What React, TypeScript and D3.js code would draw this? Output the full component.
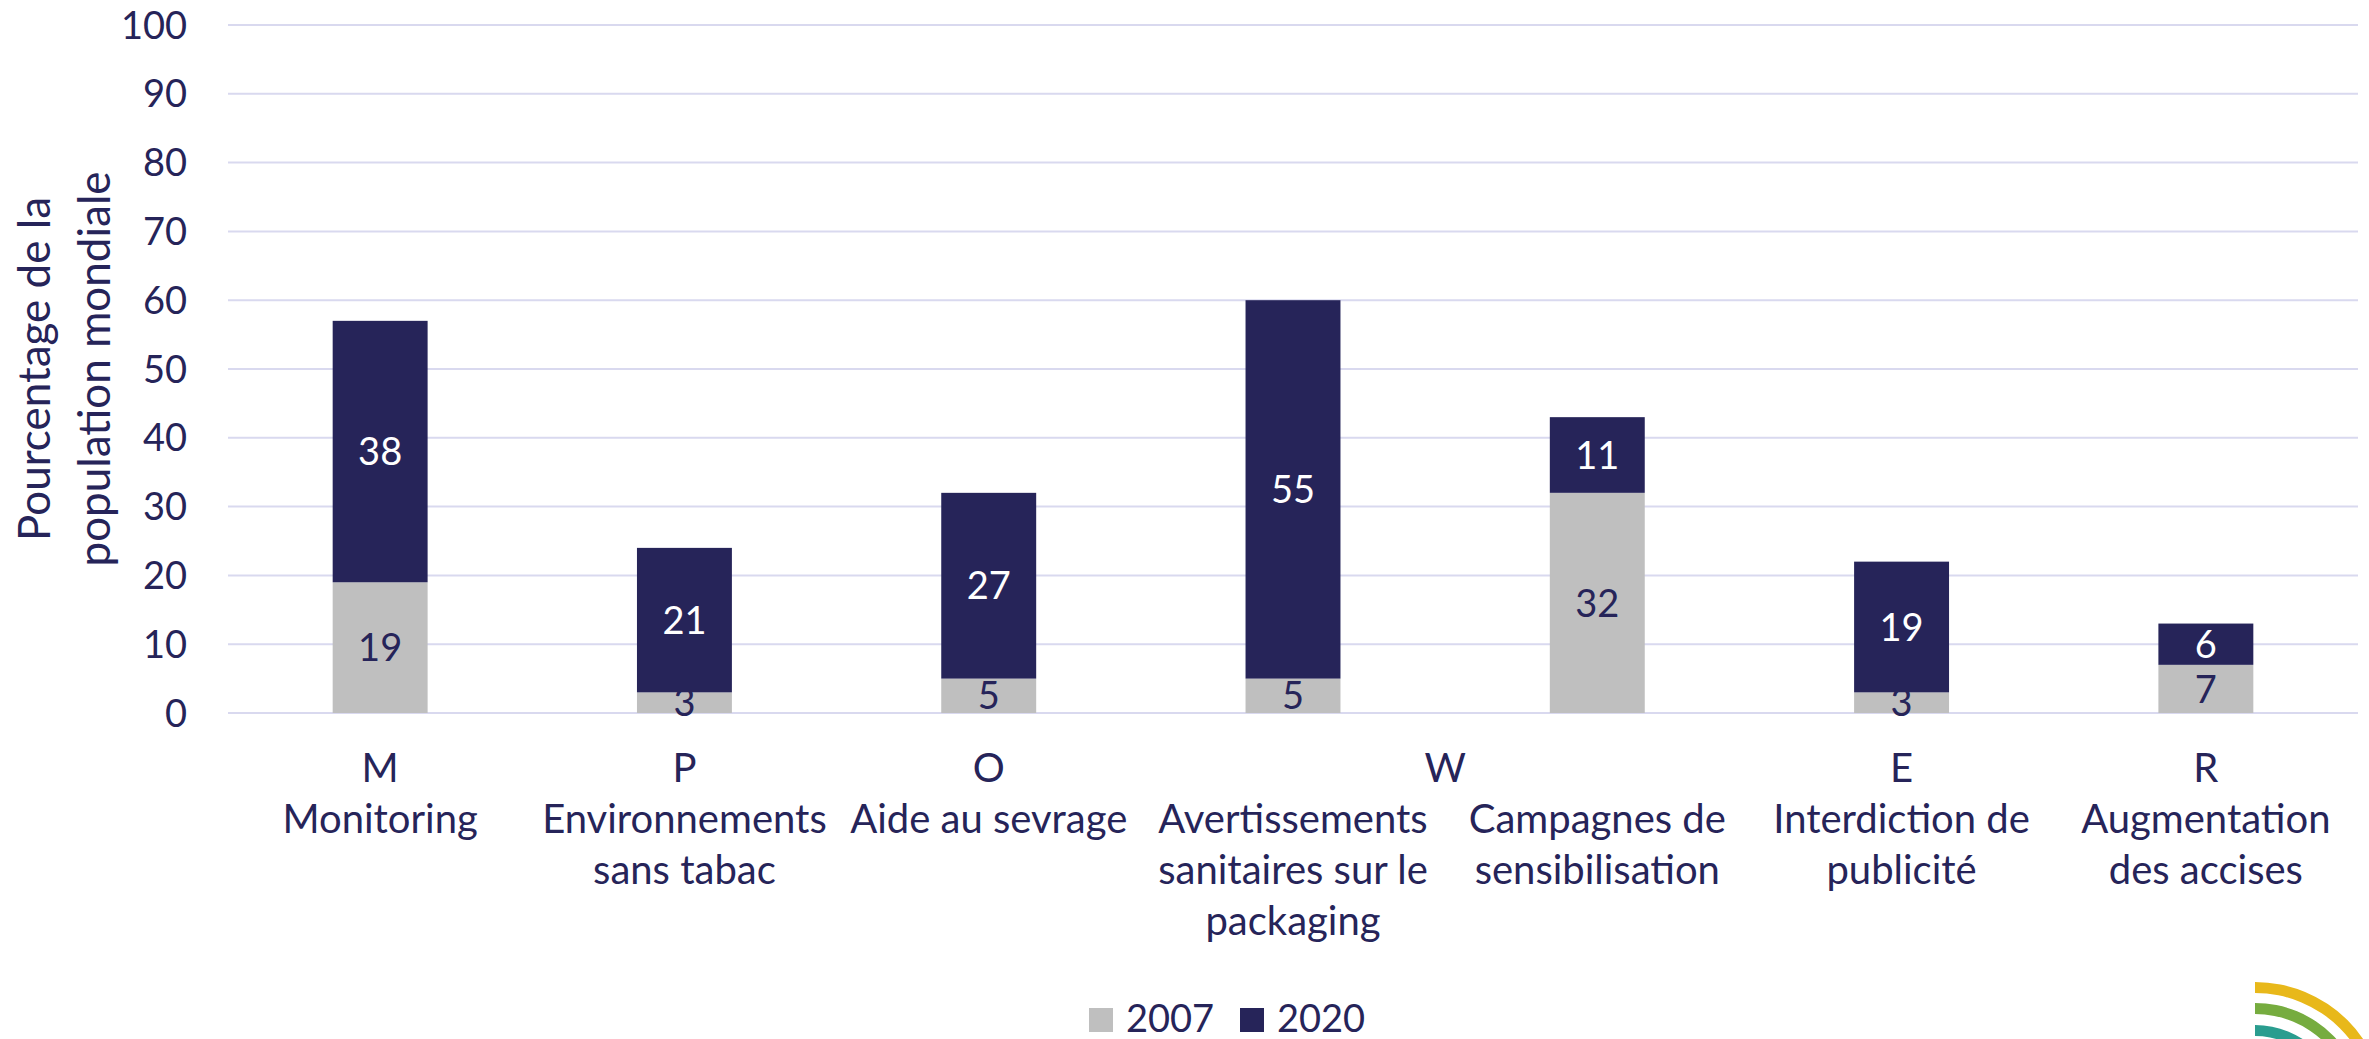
import React from 'react';
import * as d3 from 'd3';

// data
const letters = ['M', 'P', 'O', 'W', 'W', 'E', 'R'];
const categories = [
  ['Monitoring'],
  ['Environnements', 'sans tabac'],
  ['Aide au sevrage'],
  ['Avertissements', 'sanitaires sur le', 'packaging'],
  ['Campagnes de', 'sensibilisation'],
  ['Interdiction de', 'publicité'],
  ['Augmentation', 'des accises'],
];
const values2007 = [19, 3, 5, 5, 32, 3, 7];
const values2020 = [38, 21, 27, 55, 11, 19, 6];
const seriesNames = ['2007', '2020'];
const yTicks = [0, 10, 20, 30, 40, 50, 60, 70, 80, 90, 100];

const W = 2369;
const H = 1039;
const NAVY = '#262459';
const GRAY = '#bfbfbf';
const GRID = '#d9d9ef';
const FONT = 'Lato, sans-serif';
const FS = 38;      // ticks, data labels, legend
const FS_CAT = 40;  // category axis
const FS_TITLE = 44;

const margin = { top: 25, right: 11, bottom: 326, left: 228 };

export default function App() {
  const ids = categories.map((_, i) => String(i));

  const x = d3
    .scaleBand()
    .domain(ids)
    .range([margin.left, W - margin.right])
    .paddingInner(0.688)
    .paddingOuter(0.344);

  const y = d3
    .scaleLinear()
    .domain([0, 100])
    .range([H - margin.bottom, margin.top]);

  const color = d3.scaleOrdinal<string, string>().domain(seriesNames).range([GRAY, NAVY]);

  // stack the two series
  const rows = ids.map((id, i) => ({ id, '2007': values2007[i], '2020': values2020[i] }));
  const stacked = d3.stack<any>().keys(seriesNames)(rows);

  const center = (i: number) => (x(ids[i]) as number) + x.bandwidth() / 2;

  // consecutive equal letters share one label
  const groups: { letter: string; cx: number }[] = [];
  letters.forEach((l, i) => {
    const last = groups[groups.length - 1];
    if (last && last.letter === l && letters[i - 1] === l) {
      last.cx = (last.cx + center(i)) / 2;
    } else {
      groups.push({ letter: l, cx: center(i) });
    }
  });

  const arc = d3.arc();
  const logoCx = 2255, logoCy = 1113;
  const rings = [
    { r: 131, c: '#e8b81a' },
    { r: 110, c: '#76ac3f' },
    { r: 88, c: '#2a9d8f' },
  ];

  const lineH = 51;
  const letterBase = 782;

  return (
    <svg
      width={W}
      height={H}
      style={{ position: 'absolute', left: 0, top: 0, background: '#fff' }}
      fontFamily={FONT}
    >
      {/* grid */}
      <g>
        {yTicks.map((t) => (
          <line
            key={t}
            x1={margin.left}
            x2={W - margin.right}
            y1={y(t)}
            y2={y(t)}
            stroke={GRID}
            strokeWidth={2}
          />
        ))}
      </g>
      {/* y tick labels */}
      <g>
        {yTicks.map((t) => (
          <text key={t} x={187} y={y(t)} dy="0.36em" textAnchor="end" fontSize={FS} fill={NAVY}>
            {t}
          </text>
        ))}
      </g>
      {/* y title */}
      <g transform={`translate(0, ${(y(0) + y(100)) / 2}) rotate(-90)`}>
        <text x={0} y={50} textAnchor="middle" fontSize={FS_TITLE} fill={NAVY}>
          Pourcentage de la
        </text>
        <text x={0} y={110} textAnchor="middle" fontSize={FS_TITLE} fill={NAVY}>
          population mondiale
        </text>
      </g>
      {/* bars */}
      {stacked.map((s) => (
        <g key={s.key} fill={color(s.key)}>
          {s.map((d, i) => (
            <rect
              key={i}
              x={x(ids[i])}
              y={y(d[1])}
              width={x.bandwidth()}
              height={y(d[0]) - y(d[1])}
            />
          ))}
        </g>
      ))}
      {/* data labels */}
      {stacked.map((s) => (
        <g key={s.key + 'l'}>
          {s.map((d, i) => (
            <text
              key={i}
              x={center(i)}
              y={(y(d[0]) + y(d[1])) / 2}
              dy="0.36em"
              textAnchor="middle"
              fontSize={FS}
              fill={s.key === '2020' ? '#ffffff' : NAVY}
            >
              {d[1] - d[0]}
            </text>
          ))}
        </g>
      ))}
      {/* category axis */}
      {groups.map((g, i) => (
        <text key={'g' + i} x={g.cx} y={letterBase} textAnchor="middle" fontSize={FS_CAT} fill={NAVY}>
          {g.letter}
        </text>
      ))}
      {categories.map((lines, i) => (
        <text key={'c' + i} x={center(i)} textAnchor="middle" fontSize={FS_CAT} fill={NAVY}>
          {lines.map((ln, j) => (
            <tspan key={j} x={center(i)} y={letterBase + lineH * (j + 1)}>
              {ln}
            </tspan>
          ))}
        </text>
      ))}
      {/* legend */}
      <g transform="translate(1089, 1008)">
        {seriesNames.map((n, i) => (
          <g key={n} transform={`translate(${i * 151}, 0)`}>
            <rect width={24} height={24} fill={color(n)} />
            <text x={37} y={24} fontSize={FS} fill={NAVY}>
              {n}
            </text>
          </g>
        ))}
      </g>
      {/* logo corner */}
      <g transform={`translate(${logoCx}, ${logoCy})`}>
        {rings.map((r) => (
          <path
            key={r.c}
            d={
              arc({
                innerRadius: r.r - 11,
                outerRadius: r.r,
                startAngle: 0,
                endAngle: Math.PI / 2,
              }) as string
            }
            fill={r.c}
          />
        ))}
      </g>
    </svg>
  );
}
